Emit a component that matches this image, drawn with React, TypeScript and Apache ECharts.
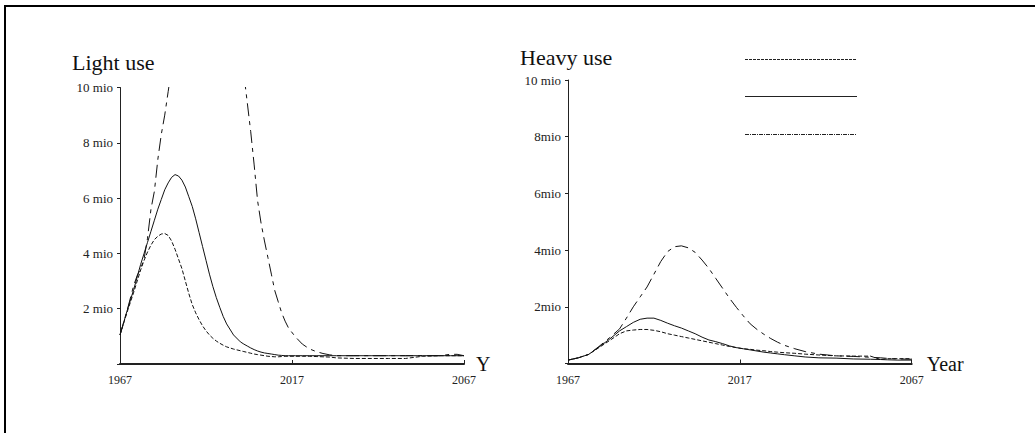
import React, { useEffect, useRef } from "react";
import * as echarts from "echarts";

// Years are offset from 1967 on the x axis so that the 50-year ticks start at 0.
const BASE_YEAR = 1967;
const X_TICK_YEARS = [1967, 2017, 2067];
const Y_TICKS = [2, 4, 6, 8, 10];

// Light use (million)
const lightYears = [
  1967, 1969, 1971, 1972, 1973, 1974, 1975, 1976, 1977, 1978, 1979, 1980, 1981,
  1982, 1983, 1984, 1985, 1986, 1987, 1988, 1989, 1990, 1991, 1992, 1993, 1994,
  1995, 1996, 1997, 1998, 2000, 2002, 2003, 2004, 2005, 2006, 2007, 2008, 2009,
  2010, 2011, 2012, 2013, 2014, 2015, 2016, 2018, 2020, 2022, 2024, 2026, 2028,
  2030, 2035, 2040, 2045, 2050, 2055, 2060, 2063, 2065, 2067,
];
const lightLow = [
  1.05, 1.85, 2.6, 3.0, 3.4, 3.75, 4.05, 4.3, 4.5, 4.62, 4.7, 4.72, 4.65,
  4.45, 4.15, 3.8, 3.45, 3.0, 2.55, 2.15, 1.85, 1.6, 1.38, 1.2, 1.05, 0.93,
  0.83, 0.75, 0.68, 0.62, 0.54, 0.48, 0.45, 0.42, 0.39, 0.36, 0.34, 0.32, 0.3,
  0.28, 0.27, 0.26, 0.26, 0.27, 0.28, 0.28, 0.28, 0.28, 0.28, 0.27, 0.26, 0.25,
  0.22, 0.2, 0.2, 0.2, 0.2, 0.28, 0.3, 0.3, 0.3, 0.3,
];
const lightMid = [
  1.05, 1.9, 2.7, 3.15, 3.6, 4.0, 4.4, 4.8, 5.2, 5.6, 5.95, 6.3, 6.55,
  6.75, 6.85, 6.8, 6.65, 6.4, 6.05, 5.7, 5.25, 4.75, 4.25, 3.75, 3.25, 2.8,
  2.4, 2.05, 1.72, 1.45, 1.05, 0.8, 0.72, 0.65, 0.58, 0.52, 0.47, 0.43, 0.4,
  0.38, 0.36, 0.34, 0.32, 0.31, 0.3, 0.3, 0.3, 0.3, 0.3, 0.3, 0.3, 0.3,
  0.3, 0.3, 0.3, 0.3, 0.3, 0.3, 0.3, 0.3, 0.3, 0.3,
];
const lightHigh = [
  1.05, 1.9, 2.85, 3.2, 3.45, 3.8, 4.55, 5.6, 6.25, 7.4, 8.3, 9.0, 9.85,
  10.7, 11.5, 12.3, 13.0, 13.6, 14.1, 14.5, 14.8, 15.0, 15.1, 15.1, 15.0, 14.8,
  14.5, 14.1, 13.6, 13.0, 12.0, 11.1, 10.5, 9.45, 8.4, 7.2, 5.9, 5.1, 4.45,
  3.85, 3.25, 2.65, 2.25, 1.85, 1.55, 1.3, 0.98, 0.72, 0.55, 0.45, 0.38, 0.33,
  0.3, 0.3, 0.3, 0.3, 0.3, 0.3, 0.3, 0.35, 0.35, 0.3,
];

// Heavy use (million)
const heavyYears = [
  1967, 1970, 1973, 1976, 1979, 1982, 1984, 1986, 1988, 1990, 1992, 1994, 1996,
  1998, 2000, 2002, 2004, 2006, 2008, 2010, 2012, 2014, 2016, 2018, 2020, 2022,
  2024, 2026, 2028, 2030, 2033, 2036, 2040, 2045, 2050, 2055, 2058, 2060, 2063,
  2067,
];
const heavyLow = [
  0.12, 0.2, 0.32, 0.56, 0.8, 1.05, 1.15, 1.18, 1.2, 1.2, 1.17, 1.12, 1.05,
  1.0, 0.95, 0.9, 0.85, 0.8, 0.75, 0.7, 0.65, 0.6, 0.56, 0.52, 0.5, 0.47,
  0.45, 0.42, 0.4, 0.38, 0.36, 0.33, 0.3, 0.27, 0.26, 0.26, 0.14, 0.17, 0.17,
  0.17,
];
const heavyMid = [
  0.12, 0.2, 0.32, 0.58, 0.85, 1.15, 1.3, 1.45, 1.56, 1.6, 1.6, 1.52, 1.42,
  1.33, 1.25, 1.15, 1.05, 0.93, 0.83, 0.77, 0.7, 0.62, 0.56, 0.52, 0.48, 0.44,
  0.4, 0.37, 0.34, 0.31, 0.27, 0.23, 0.2, 0.19, 0.16, 0.15, 0.14, 0.13, 0.12,
  0.12,
];
const heavyHigh = [
  0.12, 0.2, 0.32, 0.6, 0.9, 1.22, 1.6, 2.0, 2.35, 2.7, 3.15, 3.6, 3.95,
  4.12, 4.15, 4.08, 3.92, 3.65, 3.35, 3.0, 2.65, 2.3, 1.98, 1.68, 1.4, 1.2,
  1.03, 0.88, 0.75, 0.64, 0.52, 0.42, 0.33, 0.27, 0.25, 0.22, 0.2, 0.18, 0.16,
  0.15,
];

const INK = "#111";
const FONT = "Liberation Serif";
const LOW_DASH = [4, 2];
const HIGH_DASH = [13, 5, 4, 5];

const pairs = (years: number[], values: number[]) =>
  years.map((y, i) => [y - BASE_YEAR, values[i]]);

function xAxisFor(gridIndex: number, name: string, nameGap: number) {
  return {
    type: "value",
    gridIndex,
    min: X_TICK_YEARS[0] - BASE_YEAR,
    max: X_TICK_YEARS[X_TICK_YEARS.length - 1] - BASE_YEAR,
    interval: X_TICK_YEARS[1] - X_TICK_YEARS[0],
    name,
    nameLocation: "end",
    nameGap,
    nameTextStyle: { fontFamily: FONT, fontSize: 20, color: INK },
    axisLine: { show: true, lineStyle: { color: "#222", width: 2 } },
    axisTick: { show: true, inside: true, length: 4, lineStyle: { color: "#222" } },
    axisLabel: {
      fontFamily: FONT,
      fontSize: 12,
      color: "#222",
      margin: 10,
      formatter: (v: number) => String(v + BASE_YEAR),
    },
    splitLine: { show: false },
  };
}

function yAxisFor(gridIndex: number, spaced: boolean) {
  return {
    type: "value",
    gridIndex,
    min: 0,
    max: Y_TICKS[Y_TICKS.length - 1],
    interval: Y_TICKS[1] - Y_TICKS[0],
    axisLine: { show: true, lineStyle: { color: "#222", width: 1 } },
    axisTick: { show: true, length: 3, lineStyle: { color: "#222" } },
    axisLabel: {
      fontFamily: FONT,
      fontSize: 13,
      color: "#222",
      margin: 7,
      formatter: (v: number) =>
        v === 0 ? "" : v >= 10 || spaced ? `${v} mio` : `${v}mio`,
    },
    splitLine: { show: false },
  };
}

function lineSeries(idx: number, data: number[][], dash: number[] | "solid") {
  return {
    type: "line",
    xAxisIndex: idx,
    yAxisIndex: idx,
    data,
    showSymbol: false,
    symbol: "none",
    clip: true,
    lineStyle: { color: INK, width: 1, type: dash },
  };
}

export default function App() {
  const ref = useRef<HTMLDivElement>(null);

  useEffect(() => {
    if (!ref.current) return;
    const chart = echarts.init(ref.current, undefined, { renderer: "svg" });
    const legendX1 = 745;
    const legendX2 = 857;
    chart.setOption({
      animation: false,
      backgroundColor: "#fff",
      grid: [
        { left: 120, top: 87.5, width: 344, height: 276.5 },
        { left: 568, top: 80, width: 343.7, height: 283.5 },
      ],
      xAxis: [xAxisFor(0, "Y", 12), xAxisFor(1, "Year", 15)],
      yAxis: [yAxisFor(0, true), yAxisFor(1, false)],
      series: [
        lineSeries(0, pairs(lightYears, lightLow), LOW_DASH),
        lineSeries(0, pairs(lightYears, lightMid), "solid"),
        lineSeries(0, pairs(lightYears, lightHigh), HIGH_DASH),
        lineSeries(1, pairs(heavyYears, heavyLow), LOW_DASH),
        lineSeries(1, pairs(heavyYears, heavyMid), "solid"),
        lineSeries(1, pairs(heavyYears, heavyHigh), HIGH_DASH),
      ],
      graphic: [
        {
          type: "rect",
          shape: { x: 5, y: 6, width: 1200, height: 600 },
          style: { fill: "none", stroke: "#000", lineWidth: 2 },
          silent: true,
        },
        {
          type: "text",
          x: 72,
          y: 62,
          style: {
            text: "Light use",
            font: `22px "${FONT}"`,
            fill: INK,
            verticalAlign: "middle",
          },
        },
        {
          type: "text",
          x: 520,
          y: 57,
          style: {
            text: "Heavy use",
            font: `22px "${FONT}"`,
            fill: INK,
            verticalAlign: "middle",
          },
        },
        {
          type: "line",
          shape: { x1: legendX1, y1: 59.5, x2: legendX2, y2: 59.5 },
          style: { stroke: "#222", lineWidth: 1, lineDash: [3, 1] },
        },
        {
          type: "line",
          shape: { x1: legendX1, y1: 96.5, x2: legendX2, y2: 96.5 },
          style: { stroke: "#222", lineWidth: 1 },
        },
        {
          type: "line",
          shape: { x1: legendX1, y1: 134.5, x2: legendX2, y2: 134.5 },
          style: { stroke: "#222", lineWidth: 1, lineDash: [4, 1, 1, 1] },
        },
      ],
    });
    return () => chart.dispose();
  }, []);

  return (
    <div
      ref={ref}
      style={{ position: "fixed", left: 0, top: 0, width: 1035, height: 433 }}
    />
  );
}
